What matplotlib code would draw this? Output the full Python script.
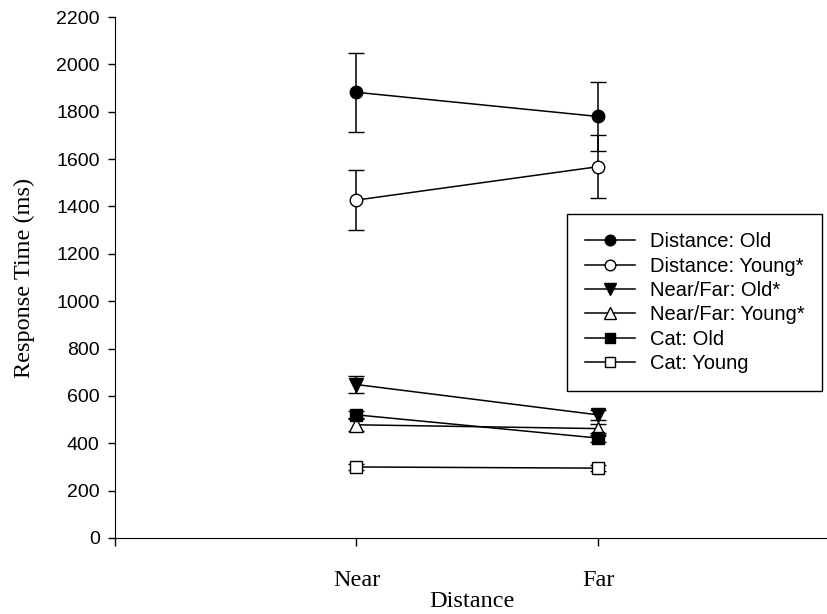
import matplotlib
matplotlib.use('agg')
import matplotlib.pyplot as plt
from matplotlib.lines import Line2D

# conditions on the x axis
positions = [1, 2]
xticklabels = ['', 'Near', 'Far']

# mean response time (ms) and error, Near then Far
dist_old = [1882, 1780]
dist_old_err = [167, 146]
dist_young = [1427, 1568]
dist_young_err = [125, 134]
nf_old = [648, 520]
nf_old_err = [37, 22]
nf_young = [478, 462]
nf_young_err = [28, 20]
cat_old = [520, 422]
cat_old_err = [18, 15]
cat_young = [300, 295]
cat_young_err = [12, 12]

labels = ['Distance: Old', 'Distance: Young*', 'Near/Far: Old*',
          'Near/Far: Young*', 'Cat: Old', 'Cat: Young']

series = [
    (dist_old, dist_old_err, 'o', 'black', 9),
    (dist_young, dist_young_err, 'o', 'white', 9),
    (nf_old, nf_old_err, 'v', 'black', 9.5),
    (nf_young, nf_young_err, '^', 'white', 9.5),
    (cat_old, cat_old_err, 's', 'black', 8),
    (cat_young, cat_young_err, 's', 'white', 8),
]

fig = plt.figure(figsize=(8.28, 6.14), dpi=100)
ax = fig.add_axes([115/828, 76/614, (828-115)/828, (538-17)/614])

handles = []
for (y, e, m, fc, ms), lab in zip(series, labels):
    ax.errorbar(positions, y, yerr=e, marker=m, markerfacecolor=fc,
                markeredgecolor='black', markeredgewidth=1.0, markersize=ms,
                color='black', linewidth=1.1, elinewidth=1.1, capsize=5.5,
                capthick=1.1)
    # legend entry: line + marker only, no error bar
    handles.append(Line2D([], [], color='black', linewidth=1.1, marker=m,
                          markerfacecolor=fc, markeredgecolor='black',
                          markersize=ms * 0.85, label=lab))

ax.set_xlim(0, (828-115)/241.5)
ax.set_ylim(0, 2200)
ax.set_yticks(range(0, 2201, 200))
ax.set_xticks([0, 1, 2])
ax.set_xticklabels(xticklabels, family='Liberation Serif', size=17.5)
for t in ax.get_yticklabels():
    t.set_family('Liberation Sans')
    t.set_size(14)

ax.spines['top'].set_visible(False)
ax.spines['right'].set_visible(False)
ax.tick_params(axis='y', direction='out', length=5, width=1, pad=6)
ax.tick_params(axis='x', direction='out', length=6, width=1, pad=17)

ax.set_xlabel('Distance', family='Liberation Serif', size=17.5, labelpad=0)
ax.set_ylabel('Response Time (ms)', family='Liberation Serif', size=17.5, labelpad=15)

leg = ax.legend(handles=handles, loc='upper left',
                bbox_to_anchor=(567/828, 1 - 214/614),
                bbox_transform=fig.transFigure, frameon=True, fancybox=False,
                edgecolor='black', framealpha=1, handlelength=2.5,
                labelspacing=0.27, borderpad=0.9, handletextpad=0.7,
                borderaxespad=0,
                prop={'family': 'Liberation Sans', 'size': 14.5})
leg.get_frame().set_linewidth(1.0)

fig.savefig('out.png', dpi=100)
